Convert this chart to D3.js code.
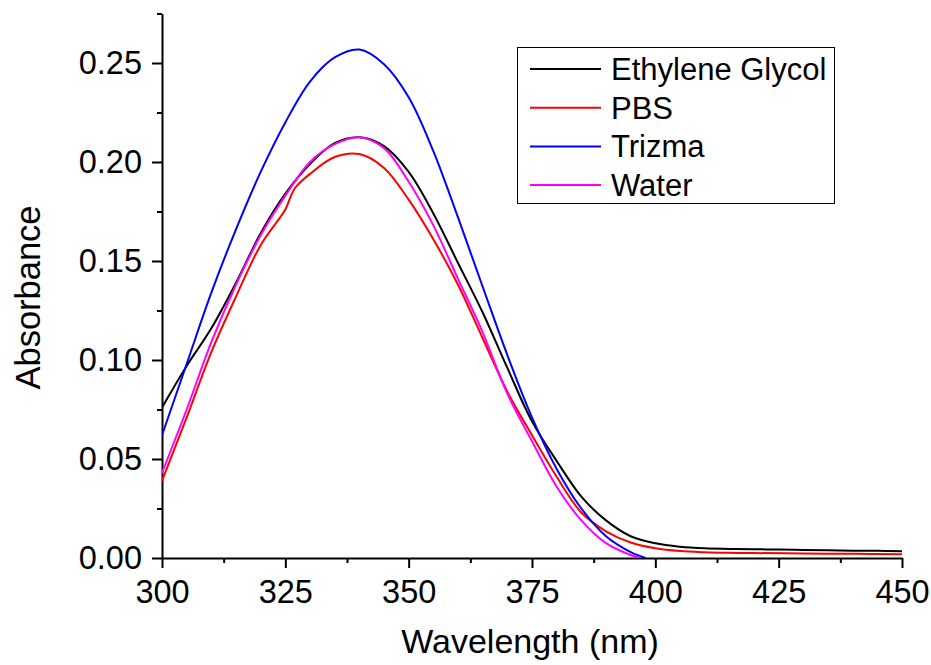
<!DOCTYPE html>
<html>
<head>
<meta charset="utf-8">
<script src="https://cdn.jsdelivr.net/npm/d3@7"></script>
<style>
  body { margin: 0; background: #fff; }
  svg text { font-family: "Liberation Sans", Arial, sans-serif; fill: #000; }
</style>
</head>
<body>
<script>
const w = 931;
const h = 665;

// wavelength (nm) and absorbance
const names = ["Ethylene Glycol", "PBS", "Trizma", "Water"];
const colors = ["#000000", "#ff0000", "#0000ff", "#ff00ff"];

const glycolX = [300,305,310,315,320,325,330,335,340,345,350,355,360,365,370,375,380,385,390,395,400,405,410,415,420,425,430,435,440,445,450];
const glycolY = [0.076,0.097,0.116,0.139,0.164,0.184,0.199,0.2095,0.2125,0.208,0.195,0.174,0.149,0.124,0.096,0.069,0.049,0.031,0.019,0.011,0.0074,0.0057,0.0049,0.0046,0.0044,0.0043,0.0041,0.0039,0.0037,0.0036,0.0034];

const pbsX = [300,305,310,315,320,325,326,327,330,335,340,345,350,355,360,365,370,375,380,385,390,395,400,405,410,415,420,430,440,450];
const pbsY = [0.039,0.071,0.104,0.132,0.158,0.176,0.182,0.187,0.194,0.2025,0.204,0.197,0.181,0.161,0.138,0.111,0.084,0.062,0.041,0.023,0.0135,0.0078,0.0049,0.0035,0.0029,0.0026,0.0025,0.0023,0.0021,0.0019];

const trizmaX = [300,305,310,315,320,325,330,335,340,345,350,355,360,365,370,375,380,385,390,395,398];
const trizmaY = [0.062,0.098,0.134,0.166,0.195,0.220,0.2406,0.2528,0.2568,0.2494,0.2327,0.2055,0.172,0.137,0.1025,0.071,0.045,0.025,0.011,0.003,0.0];

const waterX = [300,305,310,315,320,325,330,335,340,345,350,355,360,365,370,375,380,385,390,395,397];
const waterY = [0.043,0.075,0.109,0.138,0.163,0.183,0.200,0.209,0.2125,0.207,0.190,0.168,0.141,0.114,0.083,0.059,0.036,0.019,0.0075,0.0015,0.0];

const xTicks = [300, 325, 350, 375, 400, 425, 450];
const yTicks = [0.00, 0.05, 0.10, 0.15, 0.20, 0.25];

const series = [
  { name: names[0], color: colors[0], pts: d3.zip(glycolX, glycolY) },
  { name: names[1], color: colors[1], pts: d3.zip(pbsX, pbsY) },
  { name: names[2], color: colors[2], pts: d3.zip(trizmaX, trizmaY) },
  { name: names[3], color: colors[3], pts: d3.zip(waterX, waterY) }
];

const svg = d3.select('body').append('svg').attr('width', w).attr('height', h);

const xScale = d3.scaleLinear().domain([300, 450]).range([162, 902]);
const yScale = d3.scaleLinear().domain([0, 0.275]).range([558, 13.5]);

// minor ticks first
svg.append('g')
  .attr('transform', 'translate(0,558)')
  .call(d3.axisBottom(xScale).tickValues(d3.range(312.5, 450, 25)).tickSize(5).tickFormat(''))
  .call(g => g.select('.domain').remove())
  .call(g => g.selectAll('line').attr('stroke-width', 2));

svg.append('g')
  .attr('transform', 'translate(162,0)')
  .call(d3.axisLeft(yScale).tickValues(d3.range(0.025, 0.28, 0.05)).tickSize(5).tickFormat(''))
  .call(g => g.select('.domain').remove())
  .call(g => g.selectAll('line').attr('stroke-width', 2));

// main axes
const xAxis = svg.append('g')
  .attr('transform', 'translate(0,558)')
  .call(d3.axisBottom(xScale).tickValues(xTicks).tickSize(10).tickSizeOuter(0).tickPadding(12).tickFormat(d3.format('d')));

const yAxis = svg.append('g')
  .attr('transform', 'translate(162,0)')
  .call(d3.axisLeft(yScale).tickValues(yTicks).tickSize(10).tickSizeOuter(0).tickPadding(10).tickFormat(d3.format('.2f')));

[xAxis, yAxis].forEach(g => {
  g.select('.domain').attr('stroke-width', 2);
  g.selectAll('.tick line').attr('stroke-width', 2);
  g.selectAll('.tick text').style('font-size', '32.5px').style('font-family', '"Liberation Sans", Arial, sans-serif');
});

// clip so lines stay inside the frame
svg.append('clipPath').attr('id', 'clip')
  .append('rect').attr('x', 162).attr('y', 13).attr('width', 741).attr('height', 545);

const line = d3.line()
  .x(d => xScale(d[0]))
  .y(d => yScale(d[1]))
  .curve(d3.curveCatmullRom);

svg.append('g').attr('clip-path', 'url(#clip)')
  .selectAll('path')
  .data(series)
  .enter()
  .append('path')
  .attr('d', d => line(d.pts))
  .attr('fill', 'none')
  .attr('stroke', d => d.color)
  .attr('stroke-width', 2);

// axis titles
svg.append('text')
  .attr('x', 530).attr('y', 653)
  .attr('text-anchor', 'middle')
  .style('font-size', '34px')
  .text('Wavelength (nm)');

svg.append('text')
  .attr('transform', 'translate(40,297.5) rotate(-90)')
  .attr('text-anchor', 'middle')
  .style('font-size', '34.5px')
  .text('Absorbance');

// legend
const legend = svg.append('g');
legend.append('rect')
  .attr('x', 517.5).attr('y', 47.5).attr('width', 317).attr('height', 156)
  .attr('fill', '#fff').attr('stroke', '#000').attr('stroke-width', 1);

const rows = legend.selectAll('g.row')
  .data(series)
  .enter()
  .append('g')
  .attr('class', 'row')
  .attr('transform', (d, i) => 'translate(0,' + (69 + i * 38.7) + ')');

rows.append('line')
  .attr('x1', 530).attr('x2', 601)
  .attr('stroke', d => d.color).attr('stroke-width', 2);

rows.append('text')
  .attr('x', 611).attr('y', 11)
  .style('font-size', '31px')
  .text(d => d.name);
</script>
</body>
</html>
